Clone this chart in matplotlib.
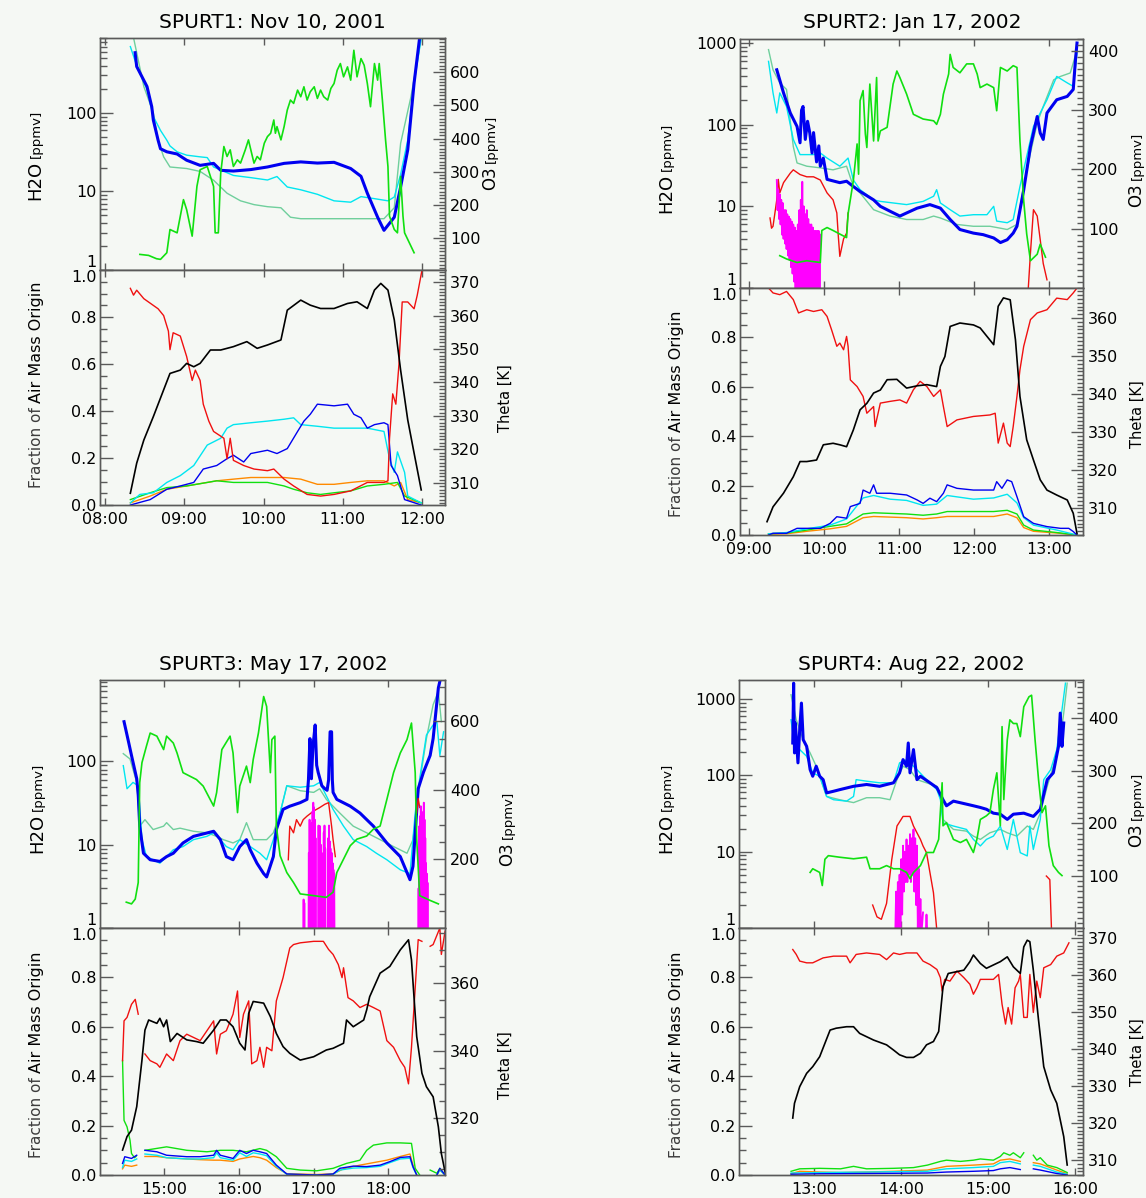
import numpy as np
import matplotlib
matplotlib.use("Agg")
import matplotlib.pyplot as plt
from matplotlib.ticker import FixedLocator, MultipleLocator, FuncFormatter, NullFormatter, LogLocator

# ---------------------------------------------------------------------------
# Flight data: (time [h UTC], value) pairs, None marks a gap in the record
# ---------------------------------------------------------------------------

# ---- SPURT1, 10 Nov 2001 ----
s1_h2o_blue = [(8.38,585),(8.40,390),(8.53,217),(8.59,120),(8.61,81),(8.67,45),(8.70,35),(8.78,32),(8.91,30),
               (9.03,25),(9.20,21.5),(9.37,22.8),(9.46,18.6),(9.62,18.2),(9.84,19),(10.05,20.5),(10.26,22.8),
               (10.47,23.8),(10.68,23),(10.89,23.5),(11.10,19.6),(11.23,15.6),(11.31,9.5),(11.44,4.7),(11.52,3.2),
               (11.65,4.7),(11.73,11.4),(11.82,34),(11.90,240),(11.97,910)]
s1_h2o_cyan = [(8.32,700),(8.40,400),(8.53,200),(8.61,90),(8.70,60),(8.78,45),(8.82,38),(8.91,32),(9.03,29),
               (9.20,27.6),(9.29,27),(9.37,20.5),(9.62,16),(9.84,15),(10.05,14),(10.17,15.5),(10.30,11.4),
               (10.47,10.5),(10.68,9.2),(10.89,7.6),(11.10,7.3),(11.23,8.6),(11.40,8.1),(11.57,7.6),(11.65,8.5),
               (11.73,16.5),(11.82,45),(11.90,240),(11.99,900)]
s1_h2o_sea = [(8.36,910),(8.49,217),(8.61,100),(8.67,45),(8.74,27.6),(8.82,20.5),(9.03,19.6),(9.20,18),(9.37,13.9),
              (9.54,9.5),(9.71,7.6),(9.88,6.8),(10.05,6.4),(10.22,6.2),(10.34,4.7),(10.47,4.5),(10.89,4.5),
              (11.31,4.5),(11.52,4.5),(11.65,6.2),(11.73,41),(11.86,160),(11.99,900)]
s1_up_red = []
s1_up_mag = []
s1_o3 = [(8.44,51),(8.55,48),(8.65,38),(8.70,36),(8.78,56),(8.82,126),(8.91,116),(8.95,166),(8.99,216),(9.03,186),
         (9.10,106),(9.16,256),(9.20,306),(9.29,316),(9.37,256),(9.39,116),(9.43,116),(9.46,296),(9.50,376),
         (9.54,346),(9.58,366),(9.62,316),(9.67,336),(9.71,326),(9.77,366),(9.81,396),(9.86,346),(9.88,326),
         (9.92,346),(9.96,336),(10.01,386),(10.05,406),(10.09,416),(10.13,456),(10.15,416),(10.17,436),(10.22,396),
         (10.26,436),(10.30,486),(10.34,516),(10.38,506),(10.43,546),(10.47,526),(10.51,556),(10.55,516),
         (10.59,541),(10.64,556),(10.68,521),(10.72,546),(10.76,526),(10.81,516),(10.85,551),(10.89,566),
         (10.93,606),(10.97,626),(11.01,586),(11.06,616),(11.10,576),(11.14,666),(11.18,586),(11.23,641),
         (11.27,621),(11.31,566),(11.35,496),(11.40,626),(11.44,576),(11.46,626),(11.50,516),(11.54,396),
         (11.57,316),(11.59,166),(11.65,126),(11.69,116),(11.73,286),(11.76,166),(11.78,116),(11.86,76),(11.90,56)]
s1_theta = [(8.32,306.9),(8.40,315.9),(8.49,322.8),(8.61,329.8),(8.74,337.8),(8.82,342.7),(8.95,343.7),(9.03,345.7),
            (9.12,344.7),(9.20,345.7),(9.33,349.7),(9.46,349.7),(9.62,350.7),(9.79,352.2),(9.92,350.2),(10.05,351.2),
            (10.22,352.7),(10.30,361.6),(10.47,364.6),(10.59,363.1),(10.72,362.1),(10.89,362.1),(11.06,363.6),
            (11.18,364.1),(11.31,362.1),(11.40,367.6),(11.48,369.6),(11.57,367.6),(11.65,358.7),(11.73,343.7),
            (11.82,328.8),(11.90,318.9),(11.99,307.9)]
s1_frac_red = [(8.32,0.922),(8.36,0.893),(8.40,0.914),(8.49,0.878),(8.67,0.835),(8.74,0.806),(8.80,0.740),(8.82,0.661),
               (8.86,0.733),(8.95,0.719),(9.03,0.632),(9.10,0.530),(9.14,0.574),(9.20,0.530),(9.24,0.429),(9.31,0.357),
               (9.37,0.313),(9.50,0.284),(9.54,0.197),(9.58,0.284),(9.62,0.190),(9.75,0.168),(9.88,0.153),(10.05,0.146),
               (10.13,0.153),(10.26,0.110),(10.38,0.081),(10.55,0.045),(10.72,0.038),(10.89,0.045),(11.10,0.060),
               (11.31,0.096),(11.52,0.096),(11.57,0.103),(11.59,0.284),(11.63,0.473),(11.67,0.429),(11.71,0.603),
               (11.75,0.864),(11.82,0.864),(11.90,0.835),(11.94,0.893),(12.0,1.0)]
s1_frac_cyan = [(8.32,0.009),(8.44,0.045),(8.61,0.052),(8.78,0.096),(8.95,0.125),(9.12,0.168),(9.29,0.255),(9.46,0.284),
                (9.54,0.327),(9.62,0.342),(9.84,0.350),(10.05,0.357),(10.26,0.365),(10.38,0.371),(10.47,0.342),
                (10.68,0.335),(10.89,0.327),(11.10,0.327),(11.31,0.327),(11.52,0.313),(11.59,0.197),(11.65,0.139),
                (11.69,0.226),(11.78,0.139),(11.82,0.038),(11.99,0.009)]
s1_frac_blue = [(8.32,0.0),(8.57,0.023),(8.78,0.067),(8.95,0.081),(9.12,0.096),(9.24,0.153),(9.41,0.168),(9.54,0.197),
                (9.62,0.212),(9.75,0.183),(9.84,0.219),(10.05,0.233),(10.17,0.219),(10.30,0.240),(10.43,0.313),
                (10.51,0.357),(10.59,0.386),(10.68,0.429),(10.89,0.422),(11.06,0.429),(11.14,0.386),(11.23,0.371),
                (11.31,0.327),(11.40,0.342),(11.52,0.350),(11.57,0.342),(11.61,0.168),(11.69,0.125),(11.78,0.023),
                (11.99,0.0)]
s1_frac_orange = [(8.32,0.009),(8.57,0.038),(8.78,0.067),(9.03,0.081),(9.29,0.096),(9.41,0.103),(9.62,0.110),
                  (9.84,0.117),(10.05,0.117),(10.26,0.117),(10.47,0.110),(10.68,0.088),(10.89,0.088),(11.10,0.096),
                  (11.31,0.103),(11.52,0.103),(11.65,0.081),(11.73,0.096),(11.82,0.023),(11.99,0.009)]
s1_frac_green = [(8.32,0.023),(8.57,0.052),(8.78,0.074),(9.03,0.081),(9.29,0.096),(9.41,0.103),(9.62,0.096),
                 (9.84,0.096),(10.05,0.096),(10.26,0.081),(10.38,0.067),(10.55,0.052),(10.72,0.045),(10.89,0.052),
                 (11.10,0.060),(11.31,0.081),(11.52,0.088),(11.69,0.096),(11.78,0.038),(11.99,0.009)]

# ---- SPURT2, 17 Jan 2002 ----
s2_h2o_blue = [(9.37,470),(9.46,245),(9.55,139),(9.64,95),(9.68,60),(9.70,150),(9.72,167),(9.75,66),(9.78,110),
               (9.81,79),(9.84,45),(9.86,80),(9.90,35),(9.93,55),(9.95,31),(9.99,39),(10.04,21.4),(10.21,19.5),
               (10.30,20.3),(10.39,17.5),(10.48,15.2),(10.66,12),(10.75,10),(10.88,8.7),(11.01,7.6),(11.10,8.3),
               (11.24,9.5),(11.41,10.5),(11.55,9.5),(11.68,6.9),(11.81,5.2),(11.99,4.7),(12.12,4.5),(12.26,4.1),
               (12.35,3.6),(12.44,3.9),(12.52,4.7),(12.57,5.7),(12.66,15.9),(12.75,54),(12.84,126),(12.88,79),
               (12.92,66),(12.97,139),(13.10,202),(13.24,222),(13.32,270),(13.35,625),(13.37,1000)]
s2_h2o_cyan = [(9.26,596),(9.32,245),(9.37,139),(9.41,245),(9.50,167),(9.59,66),(9.68,43),(9.86,43),(9.95,45),
               (10.04,39),(10.21,31),(10.32,39),(10.39,21),(10.48,16),(10.66,12),(10.75,11.5),(10.92,11),(11.10,10.5),
               (11.32,11.5),(11.46,13.3),(11.50,16),(11.55,11),(11.68,9.1),(11.81,7.6),(11.99,7.9),(12.17,7.9),
               (12.26,10),(12.30,6.6),(12.44,6.3),(12.52,6.9),(12.61,17.5),(12.70,41),(12.79,95),(12.88,139),
               (12.97,202),(13.10,390),(13.24,325),(13.32,295),(13.37,755)]
s2_h2o_sea = [(9.26,830),(9.32,470),(9.41,325),(9.50,270),(9.59,54),(9.64,34),(9.77,31),(9.95,29.6),(10.12,28),
              (10.30,31),(10.39,17.5),(10.48,14.6),(10.66,9.1),(10.88,7.6),(11.10,6.9),(11.32,6.9),(11.46,7.6),
              (11.55,7.2),(11.77,6.0),(11.99,5.7),(12.21,5.7),(12.35,5.4),(12.44,5.2),(12.57,6.0),(12.66,17.5),
              (12.75,45),(12.84,105),(12.92,167),(13.06,355),(13.15,390),(13.28,430),(13.32,570),(13.37,830)]
s2_up_red = [(9.28,7.2),(9.30,5.4),(9.32,5.7),(9.37,12),(9.39,21.4),(9.41,14.6),(9.46,19.5),(9.55,25.5),(9.59,28),
             (9.68,24.5),(9.77,23),(9.86,23),(9.95,21),(10.04,14.6),(10.12,12),(10.17,8.3),(10.19,4.3),(10.21,2.44),
             (10.26,4.0),(10.30,4.7),(10.32,8.3),(10.33,None),(12.72,0.96),(12.75,2.7),(12.79,9.1),(12.84,7.6),
             (12.88,3.9),(12.92,2.0),(12.97,1.26)]
s2_up_mag = [(9.37,21),(9.38,9),(9.39,16),(9.40,7),(9.41,14),(9.42,6),(9.43,12),(9.44,4.5),(9.45,11),(9.46,4),
             (9.47,9),(9.48,3.5),(9.49,9),(9.50,3),(9.51,8),(9.52,2.5),(9.53,7.5),(9.54,2.2),(9.55,7),(9.56,1.8),
             (9.57,6.5),(9.58,1.5),(9.59,6),(9.60,1.2),(9.61,5.5),(9.62,0.8),(9.63,5),(9.64,0.6),(9.65,6),(9.66,0.5),
             (9.67,9),(9.68,0.5),(9.69,12),(9.70,0.5),(9.71,20),(9.72,0.5),(9.73,10),(9.74,0.5),(9.75,8),(9.76,0.5),
             (9.77,9),(9.78,0.5),(9.79,7),(9.80,0.5),(9.81,6),(9.82,0.5),(9.83,6),(9.84,0.5),(9.85,5.5),(9.86,0.5),
             (9.87,5),(9.88,0.5),(9.89,5),(9.90,0.5),(9.91,5),(9.92,0.5),(9.93,5),(9.94,0.5),(9.95,4.5)]
s2_o3 = [(9.41,54.5),(9.50,49),(9.64,43),(9.77,46),(9.95,43),(9.97,97),(10.04,102),(10.12,97),(10.21,91),(10.30,85),
         (10.32,125),(10.39,181),(10.44,243),(10.46,192),(10.48,316),(10.52,333),(10.55,260),(10.57,237),(10.61,344),
         (10.66,248),(10.70,355),(10.72,248),(10.75,265),(10.84,271),(10.92,344),(10.97,366),(11.01,355),(11.10,327),
         (11.19,293),(11.32,285),(11.46,282),(11.50,276),(11.55,293),(11.59,327),(11.66,361),(11.68,394),(11.72,372),
         (11.81,363),(11.90,378),(11.99,378),(12.04,361),(12.08,338),(12.17,344),(12.26,338),(12.30,299),(12.35,372),
         (12.44,366),(12.52,375),(12.57,372),(12.61,248),(12.66,147),(12.70,91),(12.75,46),(12.84,57),(12.88,74),
         (12.95,52)]
s2_theta = [(9.24,306.5),(9.32,310.4),(9.46,314.0),(9.59,318.3),(9.68,322.3),(9.77,322.3),(9.90,322.7),(9.99,326.7),
            (10.12,327.1),(10.21,326.7),(10.30,326.2),(10.39,330.6),(10.48,335.9),(10.57,337.6),(10.66,340.3),
            (10.75,341.1),(10.84,343.8),(10.97,343.9),(11.10,341.6),(11.24,342.2),(11.37,342.5),(11.50,342.0),
            (11.55,347.3),(11.61,349.9),(11.68,357.8),(11.81,358.7),(11.99,358.2),(12.08,357.4),(12.17,355.2),
            (12.26,353.0),(12.32,363.1),(12.39,365.3),(12.48,364.8),(12.55,354.3),(12.61,339.4),(12.70,328.0),
            (12.79,322.7),(12.88,317.5),(12.97,314.8),(13.10,313.5),(13.24,312.2),(13.32,308.7),(13.37,303.4)]
s2_frac_red = [(9.26,1.0),(9.32,0.98),(9.41,0.973),(9.50,0.986),(9.59,0.953),(9.66,0.899),(9.77,0.912),(9.86,0.905),
               (9.97,0.912),(10.04,0.885),(10.10,0.831),(10.17,0.764),(10.21,0.777),(10.26,0.75),(10.30,0.804),
               (10.32,0.764),(10.35,0.628),(10.44,0.601),(10.52,0.561),(10.57,0.493),(10.66,0.520),(10.68,0.439),
               (10.75,0.534),(10.88,0.541),(11.01,0.547),(11.10,0.534),(11.19,0.588),(11.28,0.622),(11.37,0.601),
               (11.46,0.561),(11.55,0.588),(11.59,0.520),(11.64,0.439),(11.77,0.466),(11.99,0.480),(12.21,0.486),
               (12.28,0.493),(12.32,0.372),(12.39,0.453),(12.44,0.372),(12.48,0.358),(12.52,0.439),(12.57,0.561),
               (12.61,0.669),(12.66,0.764),(12.75,0.872),(12.84,0.899),(12.97,0.912),(13.10,0.959),(13.24,0.953),
               (13.32,0.98),(13.37,1.0)]
s2_frac_blue = [(9.26,0.0),(9.32,0.007),(9.50,0.007),(9.64,0.027),(9.77,0.027),(9.95,0.027),(10.08,0.047),(10.17,0.074),
                (10.30,0.068),(10.35,0.115),(10.48,0.128),(10.52,0.182),(10.61,0.169),(10.66,0.203),(10.70,0.169),
                (10.88,0.169),(11.10,0.162),(11.24,0.142),(11.32,0.128),(11.41,0.149),(11.50,0.135),(11.59,0.169),
                (11.64,0.203),(11.77,0.189),(11.99,0.182),(12.26,0.182),(12.30,0.216),(12.37,0.189),(12.44,0.223),
                (12.50,0.216),(12.57,0.155),(12.66,0.074),(12.79,0.047),(12.97,0.034),(13.15,0.027),(13.26,0.027),
                (13.32,0.014),(13.37,0.0)]
s2_frac_cyan = [(9.26,0.005),(9.50,0.01),(9.77,0.025),(10.08,0.04),(10.30,0.065),(10.52,0.15),(10.66,0.16),
                (10.88,0.145),(11.10,0.14),(11.32,0.12),(11.50,0.125),(11.64,0.16),(11.99,0.145),(12.26,0.15),
                (12.44,0.165),(12.57,0.13),(12.66,0.07),(12.79,0.04),(13.10,0.02),(13.37,0.0)]
s2_frac_green = [(9.26,0.005),(9.50,0.008),(9.77,0.02),(10.08,0.035),(10.30,0.045),(10.52,0.085),(10.66,0.09),
                 (11.10,0.085),(11.32,0.08),(11.50,0.085),(11.64,0.095),(11.99,0.095),(12.26,0.095),(12.44,0.10),
                 (12.57,0.085),(12.66,0.04),(12.79,0.02),(13.10,0.01),(13.37,0.0)]
s2_frac_orange = [(9.26,0.003),(9.50,0.005),(9.77,0.015),(10.08,0.025),(10.30,0.035),(10.52,0.07),(10.66,0.075),
                  (11.10,0.07),(11.32,0.065),(11.50,0.07),(11.64,0.075),(11.99,0.075),(12.26,0.075),(12.44,0.085),
                  (12.57,0.07),(12.66,0.03),(12.79,0.015),(13.10,0.008),(13.37,0.0)]

# ---- SPURT3, 17 May 2002 ----
s3_h2o_blue = [(14.46,300),(14.52,172),(14.56,118),(14.63,62),(14.65,40),(14.67,16.7),(14.72,7.9),(14.81,6.6),
               (14.94,6.3),(15.03,7.2),(15.12,7.9),(15.25,10.5),(15.39,12.6),(15.48,13.2),(15.66,14.5),(15.75,11.5),
               (15.83,7.2),(15.92,6.6),(16.01,9.5),(16.10,11.5),(16.15,8.7),(16.24,6.0),(16.33,4.5),(16.37,4.1),
               (16.46,7.2),(16.50,15.2),(16.59,26.6),(16.68,29),(16.82,32),(16.91,35),(16.93,60),(16.95,188),
               (16.96,70),(16.97,62),(16.99,150),(17.02,274),(17.04,90),(17.06,74),(17.11,51),(17.15,47),(17.18,45),
               (17.20,60),(17.22,227),(17.24,227),(17.25,60),(17.26,42.5),(17.31,35),(17.49,29),(17.62,24),
               (17.80,16.7),(17.98,10.5),(18.16,7.2),(18.29,3.8),(18.33,5.5),(18.40,47),(18.47,74),(18.56,118),
               (18.60,188),(18.67,764),(18.69,915)]
s3_h2o_cyan = [(14.45,89),(14.50,47),(14.58,56),(14.65,51),(14.70,11.5),(14.76,7.2),(14.94,6.0),(15.03,7.2),
               (15.12,8.7),(15.25,9.5),(15.39,11.5),(15.57,12.6),(15.66,13.9),(15.75,11.5),(15.83,9.5),(15.92,8.7),
               (16.01,11.5),(16.15,9.5),(16.28,7.9),(16.37,6.6),(16.46,11.5),(16.55,24),(16.64,51),(16.82,49),
               (17.00,51),(17.08,56),(17.17,38.6),(17.26,26.6),(17.40,16.7),(17.53,11.5),(17.71,9.5),(17.84,7.9),
               (17.98,6.6),(18.16,5.0),(18.29,4.5),(18.36,24),(18.42,62),(18.51,207),(18.60,274),(18.65,300),
               (18.69,118),(18.74,227)]
s3_h2o_sea = [(14.45,124),(14.54,107),(14.63,56),(14.67,16.7),(14.74,20),(14.85,15.2),(14.99,16.7),(15.03,18.4),
              (15.12,15.2),(15.21,15.8),(15.39,14.5),(15.57,13.9),(15.70,12.6),(15.79,11.5),(15.92,10.5),(16.01,11.5),
              (16.10,18.4),(16.19,11.5),(16.37,11.5),(16.46,13.9),(16.55,24),(16.64,51),(16.82,44.5),(17.00,42.5),
              (17.08,47),(17.17,35),(17.35,24),(17.53,16.7),(17.71,13.9),(17.89,11.5),(18.07,9.5),(18.25,7.9),
              (18.33,11.5),(18.42,56),(18.51,188),(18.60,479),(18.67,695),(18.71,300)]
s3_up_red = [(16.66,6.6),(16.68,16.7),(16.73,13.9),(16.77,20),(16.82,16.7),(16.86,20),(16.91,22),(17.00,25.4),
             (17.08,27.9),(17.15,30.6),(17.20,32),(17.24,16.7),(17.26,11.5),(17.29,7.2),(17.30,None),(18.38,24),
             (18.40,36),(18.42,28)]
s3_up_mag = [(16.86,0.5),(16.865,2.2),(16.87,0.5),(16.875,2.0),(16.88,0.5),(16.885,None),
             (16.93,0.5),(16.935,8),(16.94,0.5),(16.945,20),(16.95,0.6),(16.955,14),(16.96,0.5),(16.965,11),
             (16.97,0.5),(16.975,18),(16.98,0.7),(16.985,25),(16.99,0.5),(16.995,32),(17.00,0.5),(17.005,28),
             (17.01,0.6),(17.015,20),(17.02,0.5),(17.025,12),(17.03,0.5),(17.035,None),
             (17.06,0.5),(17.065,17),(17.07,0.5),(17.075,12),(17.08,0.6),(17.085,16.7),(17.09,0.5),(17.095,10),
             (17.10,0.5),(17.105,8),(17.11,0.5),(17.115,6),(17.12,0.6),(17.125,5),(17.13,0.5),(17.135,14),
             (17.14,0.5),(17.145,17),(17.15,0.5),(17.155,9),(17.16,0.5),(17.165,None),
             (17.19,0.5),(17.195,12),(17.20,0.5),(17.205,17),(17.21,0.5),(17.215,11),(17.22,0.6),(17.225,9),
             (17.23,0.5),(17.235,8),(17.24,0.5),(17.245,7.9),(17.25,0.5),(17.255,6),(17.26,0.5),(17.265,5),
             (17.27,0.5),(17.275,4.5),(17.28,0.5),(17.285,None),
             (18.40,0.5),(18.405,3),(18.41,0.5),(18.415,16.7),(18.42,0.5),(18.425,22),(18.43,0.5),(18.435,29),
             (18.44,0.5),(18.445,25),(18.45,0.5),(18.455,None),
             (18.47,0.5),(18.475,32),(18.48,0.5),(18.485,20),(18.49,0.5),(18.495,12),(18.50,0.5),(18.505,6),
             (18.51,0.5),(18.515,4.5),(18.52,0.5),(18.525,3.5),(18.53,0.5)]
s3_o3 = [(14.49,75),(14.56,70),(14.61,84),(14.65,132),(14.67,422),(14.70,480),(14.76,528),(14.81,566),(14.90,557),
         (14.99,518),(15.03,557),(15.12,537),(15.17,508),(15.25,451),(15.34,441),(15.43,431),(15.52,412),(15.66,354),
         (15.70,393),(15.77,518),(15.88,557),(15.92,508),(15.98,335),(16.01,412),(16.10,470),(16.15,422),(16.19,489),
         (16.26,566),(16.33,672),(16.37,643),(16.42,451),(16.44,547),(16.48,557),(16.50,296),(16.55,210),(16.64,161),
         (16.73,132),(16.82,99),(17.00,94),(17.17,89),(17.26,104),(17.31,161),(17.40,200),(17.49,239),(17.58,258),
         (17.71,267),(17.80,287),(17.89,296),(17.98,373),(18.07,451),(18.16,508),(18.25,547),(18.31,595),(18.36,451),
         (18.38,258),(18.42,94),(18.56,80),(18.67,70)]
s3_theta = [(14.44,310.5),(14.50,314.5),(14.56,316.4),(14.63,323.4),(14.70,337.2),(14.74,346.1),(14.79,349.1),
            (14.90,348.1),(14.94,349.6),(14.99,347.1),(15.03,349.1),(15.08,342.7),(15.17,345.1),(15.30,343.2),
            (15.43,342.7),(15.52,342.2),(15.66,346.1),(15.75,349.1),(15.83,349.1),(15.92,347.1),(16.01,342.2),
            (16.08,340.2),(16.13,351.1),(16.19,354.6),(16.33,354.1),(16.42,350.1),(16.50,345.1),(16.59,341.2),
            (16.68,339.2),(16.82,337.2),(17.00,338.2),(17.17,340.2),(17.26,340.7),(17.40,342.2),(17.44,349.1),
            (17.53,347.1),(17.67,349.1),(17.71,352.1),(17.75,356.0),(17.89,363.0),(18.02,365.0),(18.16,369.9),
            (18.27,372.9),(18.31,366.9),(18.38,344.2),(18.45,333.3),(18.51,329.3),(18.60,326.3),(18.67,317.4),
            (18.71,309.5),(18.76,304.0)]
s3_frac_red = [(14.44,0.463),(14.46,0.624),(14.50,0.638),(14.56,0.691),(14.61,0.711),(14.65,0.651),(14.67,None),
               (14.74,0.49),(14.81,0.463),(14.90,0.45),(14.94,0.436),(15.03,0.49),(15.12,0.463),(15.21,0.544),
               (15.30,0.57),(15.39,0.557),(15.48,0.544),(15.57,0.584),(15.66,0.624),(15.70,0.49),(15.75,0.57),
               (15.83,0.584),(15.92,0.651),(15.98,0.745),(16.01,0.557),(16.06,0.651),(16.13,0.705),(16.17,0.45),
               (16.24,0.463),(16.28,0.517),(16.33,0.436),(16.37,0.517),(16.44,0.503),(16.50,0.705),(16.59,0.799),
               (16.68,0.919),(16.73,0.933),(16.82,0.94),(17.00,0.946),(17.13,0.946),(17.20,0.913),(17.26,0.893),
               (17.33,0.852),(17.38,0.799),(17.40,0.839),(17.46,0.718),(17.53,0.705),(17.62,0.678),(17.71,0.691),
               (17.80,0.678),(17.89,0.664),(17.98,0.544),(18.07,0.517),(18.16,0.463),(18.22,0.436),(18.27,0.369),
               (18.31,0.517),(18.36,0.758),(18.40,0.953),(18.45,0.946),(18.47,None),(18.56,0.926),(18.60,0.933),
               (18.69,1.0),(18.71,0.893),(18.76,0.987)]
s3_frac_blue = [(14.44,0.047),(14.47,0.074),(14.56,0.067),(14.63,0.08),(14.67,None),(14.74,0.1),(14.90,0.094),
                (15.03,0.08),(15.30,0.074),(15.48,0.074),(15.66,0.08),(15.70,0.1),(15.75,0.08),(15.92,0.067),
                (16.01,0.1),(16.10,0.087),(16.19,0.1),(16.28,0.094),(16.37,0.087),(16.50,0.04),(16.64,0.004),
                (17.04,0.0),(17.26,0.004),(17.35,0.027),(17.53,0.036),(17.71,0.034),(17.89,0.04),(18.02,0.054),
                (18.16,0.071),(18.29,0.074),(18.33,0.034),(18.38,0.0),(18.42,None),(18.65,0.0),(18.69,0.027),
                (18.76,0.0)]
s3_frac_cyan = [(14.44,0.03),(14.47,0.06),(14.56,0.055),(14.63,0.065),(14.67,None),(14.74,0.085),(14.90,0.08),
                (15.03,0.07),(15.30,0.065),(15.48,0.065),(15.66,0.07),(15.70,0.09),(15.75,0.07),(15.92,0.06),
                (16.01,0.09),(16.10,0.075),(16.19,0.09),(16.28,0.085),(16.37,0.078),(16.50,0.035),(16.64,0.003),
                (17.04,0.0),(17.26,0.003),(17.35,0.02),(17.53,0.028),(17.71,0.03),(17.89,0.035),(18.02,0.05),
                (18.16,0.065),(18.29,0.068),(18.33,0.03),(18.38,0.0),(18.42,None),(18.65,0.0),(18.69,0.02),
                (18.76,0.0)]
s3_frac_orange = [(14.44,0.025),(14.47,0.04),(14.56,0.035),(14.63,0.04),(14.67,None),(14.74,0.075),(14.90,0.075),
                  (15.03,0.07),(15.30,0.065),(15.48,0.062),(15.66,0.06),(15.75,0.06),(15.92,0.055),(16.01,0.065),
                  (16.19,0.075),(16.28,0.07),(16.37,0.06),(16.50,0.03),(16.64,0.005),(17.04,0.002),(17.26,0.005),
                  (17.40,0.025),(17.62,0.04),(17.80,0.05),(17.98,0.06),(18.16,0.075),(18.29,0.085),(18.33,0.04),
                  (18.38,0.0),(18.42,None),(18.65,0.0),(18.69,0.02),(18.76,0.0)]
s3_frac_green = [(14.44,0.463),(14.46,0.221),(14.50,0.195),(14.54,0.141),(14.56,0.087),(14.60,0.07),(14.62,0.075),
                 (14.65,None),(14.74,0.1),(15.03,0.114),(15.30,0.1),(15.57,0.094),(15.75,0.1),(15.92,0.1),
                 (16.10,0.094),(16.28,0.107),(16.37,0.1),(16.50,0.074),(16.64,0.027),(16.82,0.02),(17.04,0.017),
                 (17.26,0.027),(17.44,0.047),(17.62,0.06),(17.71,0.1),(17.80,0.121),(17.98,0.13),(18.16,0.13),
                 (18.31,0.128),(18.36,0.027),(18.42,0.0),(18.45,None),(18.56,0.02),(18.65,0.007),(18.69,0.027),
                 (18.76,0.0)]

# ---- SPURT4, 22 Aug 2002 ----
s4_h2o_blue = [(12.75,266),(12.76,1620),(12.77,197),(12.78,486),(12.81,146),(12.83,397),(12.85,887),(12.87,294),
               (12.91,240),(12.95,119),(12.98,97.5),(13.02,132),(13.06,97.5),(13.10,88),(13.14,59),(13.22,62),
               (13.29,65),(13.45,72),(13.60,76),(13.75,72),(13.91,80),(13.98,108),(14.02,161),(14.06,132),
               (14.08,266),(14.10,108),(14.14,218),(14.18,88),(14.22,97.5),(14.33,80),(14.41,69),(14.48,48),
               (14.52,40),(14.60,46),(14.75,42),(14.83,40),(14.91,38),(14.98,36),(15.06,32),(15.14,31),(15.22,26.5),
               (15.29,31),(15.41,32),(15.52,29),(15.60,36),(15.68,88),(15.75,108),(15.81,240),(15.83,656),
               (15.85,240),(15.87,486)]
s4_h2o_cyan = [(12.73,537),(12.77,240),(12.83,218),(12.91,178),(12.98,108),(13.06,97.5),(13.14,53),(13.22,48),
               (13.37,46),(13.45,53),(13.48,88),(13.60,84),(13.75,80),(13.91,80),(13.98,146),(14.06,161),(14.18,119),
               (14.29,88),(14.41,65),(14.45,48),(14.48,23.9),(14.60,21.7),(14.75,19.6),(14.83,14.5),(14.91,11.9),
               (14.98,14.5),(15.06,16),(15.14,21.7),(15.22,10.7),(15.29,26.5),(15.37,9.7),(15.45,8.8),(15.48,21.7),
               (15.52,10.7),(15.60,26.5),(15.64,88),(15.72,119),(15.79,218),(15.83,486),(15.89,1620)]
s4_h2o_sea = [(12.73,1140),(12.79,537),(12.87,294),(12.95,197),(13.02,132),(13.10,72),(13.14,53),(13.29,48),
              (13.45,44),(13.60,51),(13.75,51),(13.87,48),(13.95,88),(14.02,132),(14.10,119),(14.18,88),(14.29,80),
              (14.41,72),(14.45,53),(14.48,26.5),(14.60,19.6),(14.75,18.6),(14.83,16),(14.91,14.5),(15.02,17.7),
              (15.14,19.6),(15.22,17.7),(15.33,16),(15.45,21.7),(15.52,19.6),(15.60,32),(15.68,72),(15.75,132),
              (15.83,294),(15.87,656),(15.91,1620)]
s4_up_red = [(13.67,2.0),(13.72,1.4),(13.77,1.3),(13.83,2.1),(13.89,7.9),(13.95,21.7),(14.02,29),(14.10,29),
             (14.14,21.7),(14.18,17.7),(14.22,14.5),(14.25,11.9),(14.29,9.7),(14.33,5.3),(14.37,2.9),(14.41,0.9),
             (14.42,None),(15.67,4.8),(15.71,4.3),(15.73,0.9)]
s4_up_mag = [(13.93,0.8),(13.94,3),(13.95,0.8),(13.96,4),(13.97,0.8),(13.98,5),(13.99,0.8),(14.00,8),(14.01,1.5),
             (14.02,12),(14.03,3),(14.04,10),(14.05,4),(14.06,14.5),(14.07,4),(14.08,12),(14.09,5),(14.10,17),
             (14.11,4),(14.12,15),(14.13,5),(14.14,19.6),(14.15,3),(14.16,15),(14.17,2),(14.18,12),(14.19,1),
             (14.20,6),(14.21,0.8),(14.22,2.4),(14.23,0.8),(14.25,1.6),(14.26,None),(14.28,0.8),(14.29,1.5),
             (14.30,0.8)]
s4_o3 = [(12.95,106),(12.98,113),(13.06,106),(13.09,81),(13.12,131),(13.16,138),(13.29,135),(13.45,132),(13.60,135),
         (13.64,113),(13.75,113),(13.83,119),(13.91,113),(13.98,113),(14.06,106),(14.10,94),(14.14,106),(14.22,119),
         (14.29,144),(14.37,144),(14.43,169),(14.47,277),(14.48,195),(14.52,201),(14.60,169),(14.68,163),(14.75,169),
         (14.83,144),(14.87,169),(14.91,207),(14.98,214),(15.02,220),(15.06,264),(15.10,296),(15.14,195),(15.16,384),
         (15.18,245),(15.22,359),(15.25,397),(15.29,390),(15.33,390),(15.37,365),(15.41,422),(15.47,441),(15.50,444),
         (15.54,359),(15.58,283),(15.62,220),(15.66,233),(15.70,157),(15.75,119),(15.81,106),(15.85,100)]
s4_theta = [(12.75,321.4),(12.77,325.4),(12.83,329.9),(12.91,333.5),(12.98,335.3),(13.06,338.0),(13.12,341.6),
            (13.18,345.2),(13.25,345.7),(13.37,346.1),(13.45,346.1),(13.52,344.3),(13.60,343.4),(13.68,342.5),
            (13.83,341.2),(13.91,339.8),(13.98,338.5),(14.06,337.8),(14.14,337.8),(14.22,338.9),(14.29,341.2),
            (14.37,342.1),(14.43,344.8),(14.45,349.7),(14.48,356.9),(14.54,360.5),(14.64,361.0),(14.72,361.4),
            (14.79,363.7),(14.83,365.5),(14.91,363.2),(14.98,361.9),(15.06,362.8),(15.14,363.7),(15.22,365.0),
            (15.29,362.3),(15.37,360.5),(15.41,367.7),(15.45,369.5),(15.48,369.1),(15.52,361.4),(15.58,347.9),
            (15.64,335.3),(15.72,329.0),(15.79,325.4),(15.83,320.9),(15.87,316.4),(15.91,308.7)]
s4_frac_red = [(12.75,0.913),(12.79,0.893),(12.83,0.866),(12.91,0.859),(12.98,0.859),(13.10,0.879),(13.22,0.886),
               (13.37,0.886),(13.41,0.859),(13.48,0.893),(13.60,0.899),(13.75,0.893),(13.83,0.872),(13.91,0.899),
               (13.98,0.893),(14.06,0.899),(14.18,0.899),(14.25,0.866),(14.33,0.852),(14.41,0.832),(14.45,0.799),
               (14.47,0.745),(14.50,0.792),(14.56,0.785),(14.64,0.826),(14.72,0.799),(14.79,0.772),(14.83,0.732),
               (14.87,0.758),(14.91,0.792),(14.98,0.792),(15.06,0.792),(15.12,0.812),(15.16,0.691),(15.20,0.611),
               (15.23,0.678),(15.27,0.611),(15.31,0.758),(15.35,0.785),(15.37,0.812),(15.41,0.638),(15.45,0.638),
               (15.48,0.812),(15.52,0.658),(15.56,0.785),(15.60,0.718),(15.64,0.839),(15.72,0.852),(15.79,0.886),
               (15.87,0.899),(15.93,0.94)]
s4_frac_green = [(12.73,0.015),(12.83,0.025),(13.06,0.027),(13.30,0.025),(13.45,0.035),(13.60,0.025),(13.91,0.027),
                 (14.14,0.03),(14.30,0.04),(14.45,0.055),(14.52,0.06),(14.68,0.055),(14.83,0.06),(14.91,0.065),
                 (15.06,0.06),(15.14,0.075),(15.18,0.09),(15.25,0.08),(15.29,0.09),(15.37,0.07),(15.41,0.09),
                 (15.45,None),(15.52,0.08),(15.56,0.06),(15.60,0.07),(15.68,0.04),(15.79,0.03),(15.91,0.01)]
s4_frac_orange = [(12.73,0.005),(12.83,0.015),(13.06,0.012),(13.30,0.01),(13.60,0.012),(13.91,0.015),(14.30,0.02),
                  (14.52,0.035),(14.83,0.04),(15.06,0.045),(15.14,0.06),(15.25,0.065),(15.37,0.055),(15.45,None),
                  (15.52,0.05),(15.60,0.045),(15.79,0.02),(15.91,0.005)]
s4_frac_cyan = [(12.73,0.008),(13.06,0.01),(13.60,0.012),(14.30,0.015),(14.52,0.025),(14.83,0.03),(15.06,0.035),
                (15.14,0.05),(15.25,0.055),(15.37,0.045),(15.45,None),(15.52,0.04),(15.60,0.035),(15.79,0.012),
                (15.91,0.003)]
s4_frac_blue = [(12.73,0.003),(13.06,0.005),(13.60,0.006),(14.30,0.008),(14.52,0.012),(14.83,0.015),(15.06,0.018),
                (15.14,0.025),(15.25,0.03),(15.37,0.022),(15.45,None),(15.52,0.025),(15.60,0.02),(15.79,0.006),
                (15.91,0.0)]

# ---- axis tick values ----
s1_hours, s2_hours, s3_hours, s4_hours = [8, 9, 10, 11, 12], [9, 10, 11, 12, 13], [15, 16, 17, 18], [13, 14, 15, 16]
s1_h2o_ticks, s2_h2o_ticks, s3_h2o_ticks, s4_h2o_ticks = [1, 10, 100], [1, 10, 100, 1000], [1, 10, 100], [1, 10, 100, 1000]
s1_o3_ticks = [100, 200, 300, 400, 500, 600]
s2_o3_ticks = [100, 200, 300, 400]
s3_o3_ticks = [200, 400, 600]
s4_o3_ticks = [100, 200, 300, 400]
s1_th_ticks = [310, 320, 330, 340, 350, 360, 370]
s2_th_ticks = [310, 320, 330, 340, 350, 360]
s3_th_ticks = [320, 340, 360]
s4_th_ticks = [310, 320, 330, 340, 350, 360, 370]
frac_ticks = [0.0, 0.2, 0.4, 0.6, 0.8, 1.0]
titles = ["SPURT1: Nov 10, 2001", "SPURT2: Jan 17, 2002", "SPURT3: May 17, 2002", "SPURT4: Aug 22, 2002"]

# ---------------------------------------------------------------------------
W, H = 1146, 1198
BG = "#f5f8f4"
FRAME = "#5a5a5a"
C_BLUE, C_CYAN, C_SEA, C_GREEN = "#0000f0", "#00e6f0", "#6fcf9c", "#10e010"
C_RED, C_MAG, C_ORANGE = "#f01010", "#ff00ff", "#ff8a00"

fig = plt.figure(figsize=(W / 100, H / 100), dpi=100)
fig.patch.set_facecolor(BG)
renderer = fig.canvas.get_renderer()


def xy(pairs):
    t = np.array([p[0] for p in pairs], float)
    v = np.array([np.nan if p[1] is None else p[1] for p in pairs], float)
    return t, v


def box(x0, y0, x1, y1):
    return [x0 / W, 1 - y1 / H, (x1 - x0) / W, (y1 - y0) / H]


def frame(ax):
    for s in ax.spines.values():
        s.set_color(FRAME)
        s.set_linewidth(1.0)


def vlabel(x_base, y_start, pieces, gap=4):
    """Rotated label built from pieces that run upward from y_start (pixels from top)."""
    y = y_start
    for s, size, color in pieces:
        t = fig.text(x_base / W, 1 - y / H, s, rotation=90, rotation_mode="anchor", ha="left",
                     va="baseline", fontsize=size, color=color)
        ext = t.get_window_extent(renderer)
        y -= ext.height + gap


hour_fmt = FuncFormatter(lambda v, p: f"{int(round(v)):02d}:00")
TL = 11.5

flights = [
    dict(title=titles[0], up=(100, 38, 445, 270), lo=(100, 270, 445, 505), xlim=(7.937, 12.29), hours=s1_hours,
         h2o_lim=(1, 900), h2o_ticks=s1_h2o_ticks, o3_lim=(4, 703), o3_ticks=s1_o3_ticks, o3_minor=10,
         th_lim=(303.4, 373.6), th_ticks=s1_th_ticks, th_minor=1,
         blue=s1_h2o_blue, cyan=s1_h2o_cyan, sea=s1_h2o_sea, red=s1_up_red, mag=s1_up_mag, o3=s1_o3,
         theta=s1_theta, f_red=s1_frac_red, f_blue=s1_frac_blue, f_cyan=s1_frac_cyan,
         f_orange=s1_frac_orange, f_green=s1_frac_green,
         title_xy=(272, 23), h2o_lab=(40, 200), o3_lab=(495, 190), frac_lab=(41, 488), th_lab=(505, 398)),
    dict(title=titles[1], up=(740, 39, 1083, 288), lo=(740, 288, 1083, 535), xlim=(8.88, 13.45), hours=s2_hours,
         h2o_lim=(1, 1120), h2o_ticks=s2_h2o_ticks, o3_lim=(0, 420), o3_ticks=s2_o3_ticks, o3_minor=10,
         th_lim=(303.0, 367.9), th_ticks=s2_th_ticks, th_minor=1,
         blue=s2_h2o_blue, cyan=s2_h2o_cyan, sea=s2_h2o_sea, red=s2_up_red, mag=s2_up_mag, o3=s2_o3,
         theta=s2_theta, f_red=s2_frac_red, f_blue=s2_frac_blue, f_cyan=s2_frac_cyan,
         f_orange=s2_frac_orange, f_green=s2_frac_green,
         title_xy=(912, 22), h2o_lab=(671, 213), o3_lab=(1141, 207), frac_lab=(681, 517), th_lab=(1137, 414)),
    dict(title=titles[2], up=(100, 680, 445, 928), lo=(100, 928, 445, 1175), xlim=(14.138, 18.759), hours=s3_hours,
         h2o_lim=(1, 950), h2o_ticks=s3_h2o_ticks, o3_lim=(0, 720), o3_ticks=s3_o3_ticks, o3_minor=50,
         th_lim=(303.1, 376.4), th_ticks=s3_th_ticks, th_minor=5,
         blue=s3_h2o_blue, cyan=s3_h2o_cyan, sea=s3_h2o_sea, red=s3_up_red, mag=s3_up_mag, o3=s3_o3,
         theta=s3_theta, f_red=s3_frac_red, f_blue=s3_frac_blue, f_cyan=s3_frac_cyan,
         f_orange=s3_frac_orange, f_green=s3_frac_green,
         title_xy=(273, 665), h2o_lab=(42, 853), o3_lab=(512, 866), frac_lab=(41, 1158), th_lab=(505, 1065)),
    dict(title=titles[3], up=(739, 680, 1083, 928), lo=(739, 928, 1083, 1175), xlim=(12.131, 16.092), hours=s4_hours,
         h2o_lim=(1, 1780), h2o_ticks=s4_h2o_ticks, o3_lim=(0, 473), o3_ticks=s4_o3_ticks, o3_minor=10,
         th_lim=(306.0, 372.8), th_ticks=s4_th_ticks, th_minor=1,
         blue=s4_h2o_blue, cyan=s4_h2o_cyan, sea=s4_h2o_sea, red=s4_up_red, mag=s4_up_mag, o3=s4_o3,
         theta=s4_theta, f_red=s4_frac_red, f_blue=s4_frac_blue, f_cyan=s4_frac_cyan,
         f_orange=s4_frac_orange, f_green=s4_frac_green,
         title_xy=(911, 665), h2o_lab=(671, 853), o3_lab=(1141, 847), frac_lab=(681, 1158), th_lab=(1137, 1052)),
]

for f in flights:
    # ---------------- upper panel: H2O (log, left) and O3 (right) ----------------
    ax = fig.add_axes(box(*f["up"]))
    ax.set_facecolor(BG)
    ax.set_yscale("log")
    ax.set_xlim(*f["xlim"])
    ax.set_ylim(*f["h2o_lim"])
    for key, col, lw in (("sea", C_SEA, 1.0), ("cyan", C_CYAN, 1.0), ("blue", C_BLUE, 2.2),
                         ("red", C_RED, 1.0), ("mag", C_MAG, 1.3)):
        if f[key]:
            t, v = xy(f[key])
            ax.plot(t, v, color=col, lw=lw)
    ax.xaxis.set_major_locator(FixedLocator(f["hours"]))
    ax.yaxis.set_major_locator(FixedLocator(f["h2o_ticks"]))
    ax.yaxis.set_major_formatter(FuncFormatter(lambda v, p: f"{v:g}"))
    ax.yaxis.set_minor_locator(LogLocator(base=10, subs=np.arange(2, 10)))
    ax.yaxis.set_minor_formatter(NullFormatter())
    ax.tick_params(axis="x", which="both", direction="in", top=True, bottom=True, length=5, width=1,
                   color=FRAME, labelbottom=False)
    ax.tick_params(axis="y", which="major", direction="in", length=9, width=1, color=FRAME,
                   labelsize=TL, pad=2.5)
    ax.tick_params(axis="y", which="minor", direction="in", length=5, width=1, color=FRAME)
    # the "1" at the foot of the log axis sits just above the panel boundary
    ax.yaxis.get_major_ticks()[0].label1.set_verticalalignment("bottom")
    frame(ax)

    axr = ax.twinx()
    axr.set_ylim(*f["o3_lim"])
    t, v = xy(f["o3"])
    axr.plot(t, v, color=C_GREEN, lw=1.2)
    axr.yaxis.set_major_locator(FixedLocator(f["o3_ticks"]))
    axr.yaxis.set_minor_locator(MultipleLocator(f["o3_minor"]))
    axr.tick_params(axis="y", which="major", direction="in", length=9, width=1, color=FRAME,
                    labelsize=TL, pad=3.5)
    axr.tick_params(axis="y", which="minor", direction="in", length=4.5, width=1, color=FRAME)
    frame(axr)
    axr.set_xlim(*f["xlim"])

    # ---------------- lower panel: air mass fractions (left) and theta (right) ----------------
    axl = fig.add_axes(box(*f["lo"]))
    axl.set_facecolor(BG)
    axl.set_xlim(*f["xlim"])
    axl.set_ylim(0, 1)
    for key, col in (("f_orange", C_ORANGE), ("f_green", C_GREEN), ("f_cyan", C_CYAN),
                     ("f_blue", C_BLUE), ("f_red", C_RED)):
        t, v = xy(f[key])
        axl.plot(t, v, color=col, lw=1.0)
    axl.xaxis.set_major_locator(FixedLocator(f["hours"]))
    axl.xaxis.set_major_formatter(hour_fmt)
    axl.yaxis.set_major_locator(FixedLocator(frac_ticks))
    axl.yaxis.set_major_formatter(FuncFormatter(lambda v, p: f"{v:.1f}"))
    axl.yaxis.set_minor_locator(MultipleLocator(0.05))
    axl.tick_params(axis="x", which="both", direction="in", top=True, bottom=True, length=5, width=1,
                    color=FRAME, labelsize=TL, pad=5)
    axl.tick_params(axis="y", which="major", direction="in", length=9, width=1, color=FRAME,
                    labelsize=TL, pad=2.5)
    axl.tick_params(axis="y", which="minor", direction="in", length=5, width=1, color=FRAME)
    # the "1.0" at the top of the fraction axis hangs just below the panel boundary
    axl.yaxis.get_major_ticks()[-1].label1.set_verticalalignment("top")
    frame(axl)

    axt = axl.twinx()
    axt.set_ylim(*f["th_lim"])
    t, v = xy(f["theta"])
    axt.plot(t, v, color="black", lw=1.2)
    axt.yaxis.set_major_locator(FixedLocator(f["th_ticks"]))
    axt.yaxis.set_minor_locator(MultipleLocator(f["th_minor"]))
    axt.tick_params(axis="y", which="major", direction="in", length=9, width=1, color=FRAME,
                    labelsize=TL, pad=3.5)
    axt.tick_params(axis="y", which="minor", direction="in", length=4.5, width=1, color=FRAME)
    frame(axt)
    axt.set_xlim(*f["xlim"])

    # ---------------- labels ----------------
    tx, ty = f["title_xy"]
    fig.text(tx / W, 1 - ty / H, f["title"], ha="center", va="center", fontsize=14.5)

    vlabel(*f["h2o_lab"], [("H2O", 13, "black"), ("[ppmv]", 9.5, "black")], gap=3)
    vlabel(*f["o3_lab"], [("O3", 12, "black"), ("[ppmv]", 9.5, "black")], gap=3)
    vlabel(*f["frac_lab"], [("Fraction of", 11, "#3c3c3c"), ("Air Mass Origin", 11.5, "black")], gap=4)
    thx, thy = f["th_lab"]
    fig.text(thx / W, 1 - thy / H, "Theta [K]", rotation=90, ha="center", va="center", fontsize=10.5)

fig.savefig("out.png", dpi=100, facecolor=BG)
